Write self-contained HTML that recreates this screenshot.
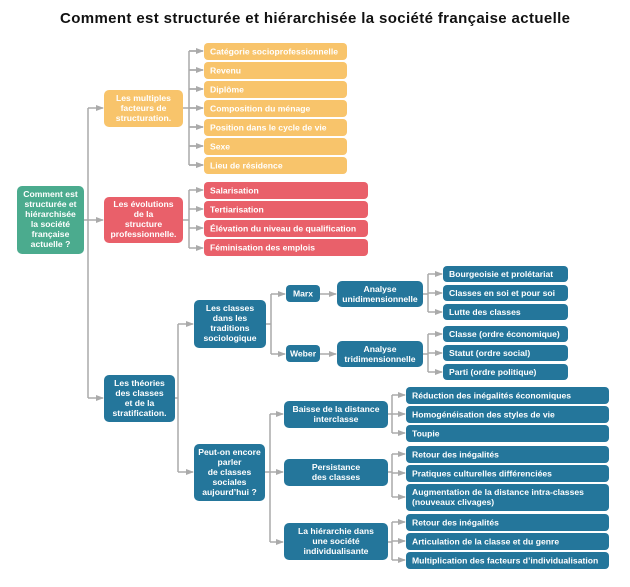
<!DOCTYPE html>
<html><head><meta charset="utf-8"><style>
html,body{margin:0;padding:0;background:#fff;width:630px;height:587px;overflow:hidden}
text{font-family:"Liberation Sans",sans-serif;font-weight:bold;fill:#fff;font-size:8.6px}
.c{text-anchor:middle}
</style></head><body>
<svg width="630" height="587" viewBox="0 0 630 587" xmlns="http://www.w3.org/2000/svg">
<defs><marker id="a" markerWidth="8" markerHeight="6" refX="7" refY="3" orient="auto" markerUnits="userSpaceOnUse"><path d="M0,0 L8,3 L0,6 Z" fill="#aaa"/></marker></defs>
<text x="315" y="23" class="c" style="fill:#111;font-size:15px" textLength="510">Comment est structurée et hiérarchisée la société française actuelle</text>
<g stroke="#aaa" stroke-width="1.5" fill="none">
<!-- root -->
<path d="M84,220 H88"/><path d="M88,108 V398"/>
<path d="M88,108 H103" marker-end="url(#a)"/><path d="M88,220 H103" marker-end="url(#a)"/><path d="M88,398 H103" marker-end="url(#a)"/>
<!-- orange -->
<path d="M183,108 H189 M189,51 V165"/>
<path d="M189,51 H203 M189,70 H203 M189,89 H203 M189,108 H203 M189,127 H203 M189,146 H203 M189,165 H203" marker-end="url(#a)"/>
<path d="M189,51 H203" marker-end="url(#a)"/><path d="M189,70 H203" marker-end="url(#a)"/><path d="M189,89 H203" marker-end="url(#a)"/><path d="M189,108 H203" marker-end="url(#a)"/><path d="M189,127 H203" marker-end="url(#a)"/><path d="M189,146 H203" marker-end="url(#a)"/><path d="M189,165 H203" marker-end="url(#a)"/>
<!-- red -->
<path d="M183,220 H189 M189,190 V248"/>
<path d="M189,190 H203" marker-end="url(#a)"/><path d="M189,209 H203" marker-end="url(#a)"/><path d="M189,228 H203" marker-end="url(#a)"/><path d="M189,248 H203" marker-end="url(#a)"/>
<!-- teal -->
<path d="M175,398 H178 M178,324 V472"/>
<path d="M178,324 H193" marker-end="url(#a)"/><path d="M178,472 H193" marker-end="url(#a)"/>
<path d="M266,324 H271 M271,294 V354"/>
<path d="M271,294 H285" marker-end="url(#a)"/><path d="M271,354 H285" marker-end="url(#a)"/>
<path d="M320,294 H336" marker-end="url(#a)"/><path d="M320,354 H336" marker-end="url(#a)"/>
<path d="M423,294 H428 M428,274 V312 M423,354 H428 M428,334 V372"/>
<path d="M428,274 H442" marker-end="url(#a)"/><path d="M428,293 H442" marker-end="url(#a)"/><path d="M428,312 H442" marker-end="url(#a)"/>
<path d="M428,334 H442" marker-end="url(#a)"/><path d="M428,353 H442" marker-end="url(#a)"/><path d="M428,372 H442" marker-end="url(#a)"/>
<path d="M265,472 H270 M270,414 V542"/>
<path d="M270,414 H283" marker-end="url(#a)"/><path d="M270,472 H283" marker-end="url(#a)"/><path d="M270,542 H283" marker-end="url(#a)"/>
<path d="M388,414 H392 M392,395 V433 M388,472 H392 M392,454 V497 M388,542 H392 M392,522 V560"/>
<path d="M392,395 H405" marker-end="url(#a)"/><path d="M392,414 H405" marker-end="url(#a)"/><path d="M392,433 H405" marker-end="url(#a)"/>
<path d="M392,454 H405" marker-end="url(#a)"/><path d="M392,473 H405" marker-end="url(#a)"/><path d="M392,497 H405" marker-end="url(#a)"/>
<path d="M392,522 H405" marker-end="url(#a)"/><path d="M392,541 H405" marker-end="url(#a)"/><path d="M392,560 H405" marker-end="url(#a)"/>
</g>
<!-- root -->
<rect x="17" y="186" width="67" height="68" rx="5" fill="#4bab8e"/>
<text class="c" x="50.5" y="197">Comment est</text><text class="c" x="50.5" y="207">structurée et</text><text class="c" x="50.5" y="217">hiérarchisée</text><text class="c" x="50.5" y="227">la société</text><text class="c" x="50.5" y="237">française</text><text class="c" x="50.5" y="247">actuelle ?</text>
<!-- orange -->
<g fill="#f8c46b">
<rect x="104" y="90" width="79" height="37" rx="5"/>
<rect x="204" y="43" width="143" height="17" rx="4"/><rect x="204" y="62" width="143" height="17" rx="4"/><rect x="204" y="81" width="143" height="17" rx="4"/><rect x="204" y="100" width="143" height="17" rx="4"/><rect x="204" y="119" width="143" height="17" rx="4"/><rect x="204" y="138" width="143" height="17" rx="4"/><rect x="204" y="157" width="143" height="17" rx="4"/>
</g>
<text class="c" x="143.5" y="101">Les multiples</text><text class="c" x="143.5" y="111">facteurs de</text><text class="c" x="143.5" y="121">structuration.</text>
<text x="210" y="54.5">Catégorie socioprofessionnelle</text><text x="210" y="73.5">Revenu</text><text x="210" y="92.5">Diplôme</text><text x="210" y="111.5">Composition du ménage</text><text x="210" y="130.5">Position dans le cycle de vie</text><text x="210" y="149.5">Sexe</text><text x="210" y="168.5">Lieu de résidence</text>
<!-- red -->
<g fill="#e9606a">
<rect x="104" y="197" width="79" height="46" rx="5"/>
<rect x="204" y="182" width="164" height="17" rx="4"/><rect x="204" y="201" width="164" height="17" rx="4"/><rect x="204" y="220" width="164" height="17" rx="4"/><rect x="204" y="239" width="164" height="17" rx="4"/>
</g>
<text class="c" x="143.5" y="207">Les évolutions</text><text class="c" x="143.5" y="217">de la</text><text class="c" x="143.5" y="227">structure</text><text class="c" x="143.5" y="237">professionnelle.</text>
<text x="210" y="193.5">Salarisation</text><text x="210" y="212.5">Tertiarisation</text><text x="210" y="231.5">Élévation du niveau de qualification</text><text x="210" y="250.5">Féminisation des emplois</text>
<!-- teal -->
<g fill="#24769b">
<rect x="104" y="375" width="71" height="47" rx="5"/>
<rect x="194" y="300" width="72" height="48" rx="5"/>
<rect x="286" y="285" width="34" height="17" rx="4"/><rect x="286" y="345" width="34" height="17" rx="4"/>
<rect x="337" y="281" width="86" height="26" rx="5"/><rect x="337" y="341" width="86" height="26" rx="5"/>
<rect x="443" y="266" width="125" height="16" rx="4"/><rect x="443" y="285" width="125" height="16" rx="4"/><rect x="443" y="304" width="125" height="16" rx="4"/>
<rect x="443" y="326" width="125" height="16" rx="4"/><rect x="443" y="345" width="125" height="16" rx="4"/><rect x="443" y="364" width="125" height="16" rx="4"/>
<rect x="194" y="444" width="71" height="57" rx="5"/>
<rect x="284" y="401" width="104" height="27" rx="5"/><rect x="284" y="459" width="104" height="27" rx="5"/><rect x="284" y="523" width="104" height="37" rx="5"/>
<rect x="406" y="387" width="203" height="17" rx="4"/><rect x="406" y="406" width="203" height="17" rx="4"/><rect x="406" y="425" width="203" height="17" rx="4"/>
<rect x="406" y="446" width="203" height="17" rx="4"/><rect x="406" y="465" width="203" height="17" rx="4"/><rect x="406" y="484" width="203" height="27" rx="4"/>
<rect x="406" y="514" width="203" height="17" rx="4"/><rect x="406" y="533" width="203" height="17" rx="4"/><rect x="406" y="552" width="203" height="17" rx="4"/>
</g>
<text class="c" x="139.5" y="386">Les théories</text><text class="c" x="139.5" y="396">des classes</text><text class="c" x="139.5" y="406">et de la</text><text class="c" x="139.5" y="416">stratification.</text>
<text class="c" x="230" y="311">Les classes</text><text class="c" x="230" y="321">dans les</text><text class="c" x="230" y="331">traditions</text><text class="c" x="230" y="341">sociologique</text>
<text class="c" x="303" y="296.5">Marx</text><text class="c" x="303" y="356.5">Weber</text>
<text class="c" x="380" y="292">Analyse</text><text class="c" x="380" y="302">unidimensionnelle</text>
<text class="c" x="380" y="352">Analyse</text><text class="c" x="380" y="362">tridimensionnelle</text>
<text x="449" y="277">Bourgeoisie et prolétariat</text><text x="449" y="296">Classes en soi et pour soi</text><text x="449" y="315">Lutte des classes</text>
<text x="449" y="337">Classe (ordre économique)</text><text x="449" y="356">Statut (ordre social)</text><text x="449" y="375">Parti (ordre politique)</text>
<text class="c" x="229.5" y="455">Peut-on encore</text><text class="c" x="229.5" y="465">parler</text><text class="c" x="229.5" y="475">de classes</text><text class="c" x="229.5" y="485">sociales</text><text class="c" x="229.5" y="495">aujourd’hui ?</text>
<text class="c" x="336" y="412">Baisse de la distance</text><text class="c" x="336" y="422">interclasse</text>
<text class="c" x="336" y="470">Persistance</text><text class="c" x="336" y="480">des classes</text>
<text class="c" x="336" y="534">La hiérarchie dans</text><text class="c" x="336" y="544">une société</text><text class="c" x="336" y="554">individualisante</text>
<text x="412" y="398.5">Réduction des inégalités économiques</text><text x="412" y="417.5">Homogénéisation des styles de vie</text><text x="412" y="436.5">Toupie</text>
<text x="412" y="457.5">Retour des inégalités</text><text x="412" y="476.5">Pratiques culturelles différenciées</text><text x="412" y="495">Augmentation de la distance intra-classes</text><text x="412" y="505">(nouveaux clivages)</text>
<text x="412" y="525.5">Retour des inégalités</text><text x="412" y="544.5">Articulation de la classe et du genre</text><text x="412" y="563.5">Multiplication des facteurs d’individualisation</text>
</svg>
</body></html>
